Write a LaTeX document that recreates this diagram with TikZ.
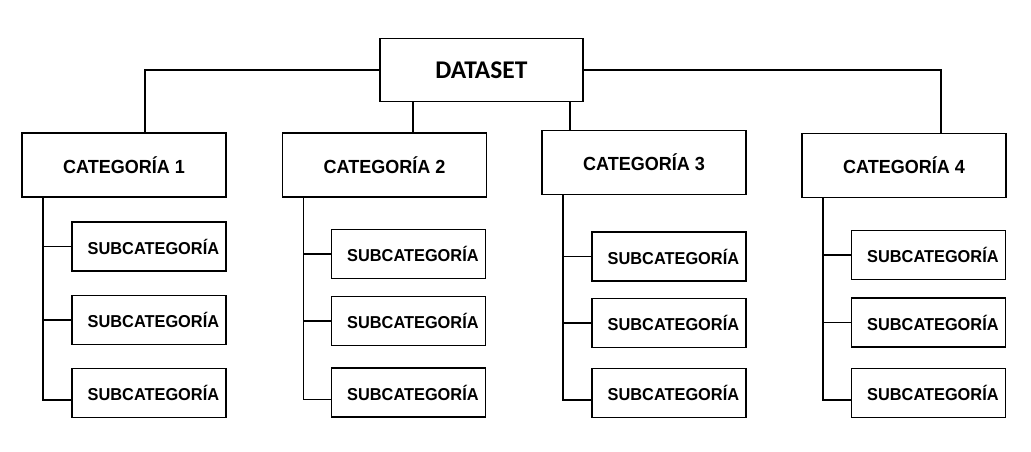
\documentclass[tikz,border=0pt]{standalone}
\usepackage{fontspec}
\newfontfamily\arialfont{Liberation Sans}[FakeStretch=0.95]
\newfontfamily\calibrifont{Carlito}
\usetikzlibrary{positioning}

\begin{document}
\begin{tikzpicture}[x=0.02cm,y=-0.02cm,
    dsbox/.style={draw,line width=0.9pt,minimum width=4.06cm,minimum height=1.26cm,inner sep=0pt,font=\calibrifont\bfseries\fontsize{14.5}{16}\selectfont},
    catbox/.style={draw,line width=0.9pt,minimum width=4.08cm,minimum height=1.28cm,inner sep=0pt,font=\arialfont\bfseries\fontsize{10.8}{13}\selectfont},
    subbox/.style={draw,line width=0.9pt,minimum width=3.08cm,minimum height=0.98cm,inner sep=0pt,font=\arialfont\bfseries\fontsize{9.8}{12}\selectfont},
    conn/.style={line width=0.8pt}]
            \useasboundingbox (0,0) rectangle (1031,452);
            % root
            \node[dsbox] (ds) at (481.5,70) {DATASET};
            % categories
            \node[catbox] (cat1) at (124,165) {CATEGORÍA 1};
            \node[catbox] (cat2) at (384.5,165) {CATEGORÍA 2};
            \node[catbox] (cat3) at (644,162.5) {CATEGORÍA 3};
            \node[catbox] (cat4) at (904,165.5) {CATEGORÍA 4};
            % subcategories
            \node[subbox] (s11) at (149,246.5) {\hspace{5pt}SUBCATEGORÍA};
            \node[subbox] (s12) at (149,320) {\hspace{5pt}SUBCATEGORÍA};
            \node[subbox] (s13) at (149,393) {\hspace{5pt}SUBCATEGORÍA};
            \node[subbox] (s21) at (408.5,254) {\hspace{5pt}SUBCATEGORÍA};
            \node[subbox] (s22) at (408.5,321) {\hspace{5pt}SUBCATEGORÍA};
            \node[subbox] (s23) at (408.5,392.5) {\hspace{5pt}SUBCATEGORÍA};
            \node[subbox] (s31) at (669,256.5) {\hspace{5pt}SUBCATEGORÍA};
            \node[subbox] (s32) at (669,323) {\hspace{5pt}SUBCATEGORÍA};
            \node[subbox] (s33) at (669,393) {\hspace{5pt}SUBCATEGORÍA};
            \node[subbox] (s41) at (928.5,255) {\hspace{5pt}SUBCATEGORÍA};
            \node[subbox] (s42) at (928.5,322.5) {\hspace{5pt}SUBCATEGORÍA};
            \node[subbox] (s43) at (928.5,393) {\hspace{5pt}SUBCATEGORÍA};
            % root to categories
            \draw[conn] (ds.west) -| ([xshift=12pt]cat1.north);
            \draw[conn] (ds.east) -| ([xshift=21pt]cat4.north);
            \draw[conn] ([xshift=-39pt]ds.south) -- ([xshift=-39pt]ds.south |- cat2.north);
            \draw[conn] ([xshift=50.4pt]ds.south) -- ([xshift=50.4pt]ds.south |- cat3.north);
            % categories to subcategories
            \foreach \i in {1,...,4}{
                \coordinate (t\i) at ([xshift=12.5pt]cat\i.south west);
                \draw[conn] (t\i) |- ([yshift=-4pt]s\i3.west);
                \draw[conn] (t\i |- s\i1.west) -- (s\i1.west);
                \draw[conn] (t\i |- s\i2.west) -- (s\i2.west);
            }
        \end{tikzpicture}
\end{document}
